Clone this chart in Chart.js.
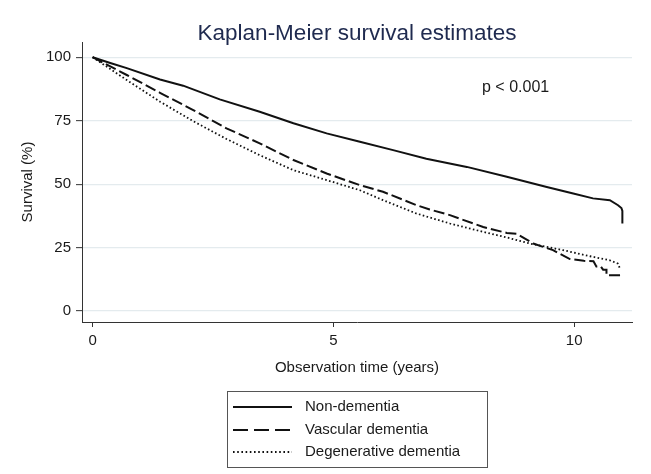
<!DOCTYPE html>
<html>
<head>
<meta charset="utf-8">
<script src="https://cdn.jsdelivr.net/npm/chart.js@4"></script>
<style>
  html, body { margin: 0; padding: 0; background: #ffffff; }
  #wrap { width: 651px; height: 474px; position: relative; }
</style>
</head>
<body>
<div id="wrap"><canvas id="kmChart"></canvas></div>
<script>
// Kaplan-Meier estimates (time in years, survival in %)
const seriesNames = ['Non-dementia', 'Vascular dementia', 'Degenerative dementia'];

const nonDementiaTime = [0, 0.35, 0.71, 1.4, 1.88, 2.64, 3.47, 4.17, 4.86, 5.55, 6.24, 6.93, 7.77, 8.6, 9.43, 9.98, 10.39, 10.74, 10.91, 10.98, 11.0, 11.0];
const nonDementiaSurv = [100, 97.8, 95.7, 91.2, 88.8, 83.4, 78.5, 74.0, 70.0, 66.7, 63.4, 60.0, 56.8, 52.9, 48.9, 46.3, 44.4, 43.7, 41.7, 40.6, 39.5, 34.5];

const vascularTime = [0, 0.71, 1.4, 2.09, 2.78, 3.47, 4.17, 4.86, 5.55, 6.03, 6.73, 7.0, 7.42, 8.11, 8.6, 8.8, 9.15, 9.56, 9.91, 10.2, 10.4, 10.46, 10.55, 10.6, 10.67, 10.67, 10.98];
const vascularSurv = [100, 93.0, 86.0, 79.2, 72.0, 66.1, 59.5, 54.2, 49.6, 47.0, 41.7, 40.0, 37.8, 33.1, 30.8, 30.5, 26.6, 24.0, 20.5, 19.8, 19.6, 17.6, 17.6, 16.3, 16.3, 14.1, 14.1];

const degenerativeTime = [0, 0.71, 1.4, 2.09, 2.78, 3.47, 4.17, 4.86, 5.55, 6.03, 6.73, 7.42, 8.11, 8.6, 9.08, 9.77, 10.33, 10.74, 10.91, 10.95];
const degenerativeSurv = [100, 91.0, 82.5, 74.8, 67.8, 61.4, 55.5, 51.6, 47.6, 43.7, 38.4, 34.5, 31.2, 29.0, 26.6, 24.0, 21.6, 20.0, 18.7, 16.7];

const yearTicks = [0, 5, 10];
const survivalTicks = [0, 25, 50, 75, 100];

const FONT = "'Liberation Sans', Arial, sans-serif";
const INK = '#1a1a1a';

const toPoints = (ts, vs) => ts.map((t, i) => ({ x: t, y: vs[i] }));

// title, p-value and the boxed legend, drawn Stata-style
const extrasPlugin = {
    id: 'kmExtras',
    afterDraw(chart) {
        const ctx = chart.ctx;
        const area = chart.chartArea;
        ctx.save();

        ctx.fillStyle = '#1f2a4f';
        ctx.font = '22.5px ' + FONT;
        ctx.textAlign = 'center';
        ctx.textBaseline = 'alphabetic';
        ctx.fillText('Kaplan-Meier survival estimates', (area.left + area.right) / 2, 40);

        ctx.fillStyle = INK;
        ctx.font = '16px ' + FONT;
        ctx.textAlign = 'left';
        ctx.fillText('p < 0.001', 482, 92);

        // legend box
        ctx.strokeStyle = '#555555';
        ctx.lineWidth = 1;
        ctx.setLineDash([]);
        ctx.strokeRect(227.5, 391.5, 260, 76);

        const legendDash = [[], [15, 6], [1.6, 2.6]];
        const rowY = [407, 430, 452];
        ctx.font = '15px ' + FONT;
        ctx.textBaseline = 'middle';
        chart.data.datasets.forEach((ds, i) => {
            ctx.strokeStyle = ds.borderColor;
            ctx.lineWidth = ds.borderWidth;
            ctx.setLineDash(legendDash[i]);
            ctx.beginPath();
            ctx.moveTo(233, rowY[i]);
            ctx.lineTo(292, rowY[i]);
            ctx.stroke();
            ctx.fillStyle = INK;
            ctx.fillText(ds.label, 305, rowY[i]);
        });
        ctx.restore();
    }
};

const ctx = document.getElementById('kmChart').getContext('2d');
new Chart(ctx, {
    type: 'line',
    data: {
        datasets: [{
            label: seriesNames[0],
            data: toPoints(nonDementiaTime, nonDementiaSurv),
            borderColor: '#111111',
            borderWidth: 2,
            borderDash: []
        }, {
            label: seriesNames[1],
            data: toPoints(vascularTime, vascularSurv),
            borderColor: '#111111',
            borderWidth: 2,
            borderDash: [11, 4]
        }, {
            label: seriesNames[2],
            data: toPoints(degenerativeTime, degenerativeSurv),
            borderColor: '#111111',
            borderWidth: 1.8,
            borderDash: [1.6, 2.4]
        }]
    },
    options: {
        responsive: true,
        maintainAspectRatio: false,
        animation: false,
        layout: {
            padding: { left: 0, right: 19, top: 42, bottom: 92 }
        },
        elements: {
            point: { radius: 0, hoverRadius: 0 },
            line: { tension: 0, fill: false }
        },
        plugins: {
            legend: { display: false },
            title: { display: false },
            tooltip: { enabled: false }
        },
        scales: {
            x: {
                type: 'linear',
                min: -0.22,
                max: 11.2,
                afterBuildTicks: (scale) => { scale.ticks = yearTicks.map(v => ({ value: v })); },
                afterFit: (scale) => { scale.height = 60; },
                grid: { drawOnChartArea: false, tickLength: 5, tickColor: '#333333', tickWidth: 1 },
                border: { color: '#333333', width: 1 },
                ticks: { padding: 5, color: INK, font: { family: FONT, size: 15 }, maxRotation: 0 },
                title: {
                    display: true,
                    text: 'Observation time (years)',
                    color: INK,
                    font: { family: FONT, size: 15 },
                    padding: { top: 0, bottom: 5 }
                }
            },
            y: {
                min: -4.3,
                max: 106,
                afterBuildTicks: (scale) => { scale.ticks = survivalTicks.map(v => ({ value: v })); },
                afterFit: (scale) => { scale.width = 82; },
                grid: { color: '#e4ebee', lineWidth: 1.3, tickLength: 6, tickColor: '#333333', tickWidth: 1 },
                border: { color: '#333333', width: 1 },
                ticks: { padding: 5, color: INK, font: { family: FONT, size: 15 } },
                title: {
                    display: true,
                    text: 'Survival (%)',
                    color: INK,
                    font: { family: FONT, size: 15 },
                    padding: { top: 19, bottom: 0 }
                }
            }
        }
    },
    plugins: [extrasPlugin]
});
</script>
</body>
</html>
